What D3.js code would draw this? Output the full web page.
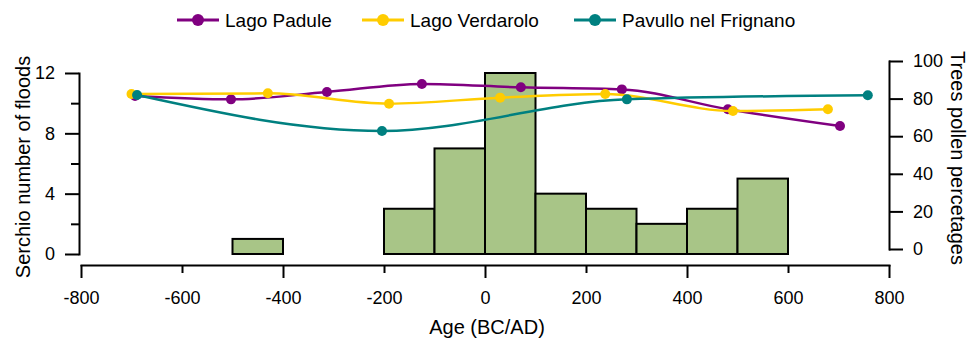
<!DOCTYPE html>
<html>
<head>
<meta charset="utf-8">
<script src="https://cdn.jsdelivr.net/npm/d3@7"></script>
<style>
  body { margin: 0; background: #fff; }
  svg text { font-family: "Liberation Sans", Arial, sans-serif; fill: #000; }
  .axis path, .axis line { stroke: #000; stroke-width: 2; }
</style>
</head>
<body>
<div id="chart"></div>
<script>
// Histogram of Serchio floods (100-year bins)
const binStarts = [-500, -200, -100, 0, 100, 200, 300, 400, 500];
const floods = [1, 3, 7, 12, 4, 3, 2, 3, 5];

// Trees pollen percentages
const paduleAge = [-693, -503, -313, -125, 71, 271, 481, 703];
const paduleVal = [81.4, 79.6, 83.5, 87.8, 86.0, 84.9, 74.3, 65.4];
const verdaroloAge = [-700, -430, -190, 30, 238, 491, 679];
const verdaroloVal = [82.4, 82.8, 77.3, 80.5, 82.4, 73.4, 74.3];
const pavulloAge = [-689, -204, 281, 758];
const pavulloVal = [81.9, 62.8, 79.6, 81.8];

const series = [
    { name: "Lago Padule", color: "#800080", ages: paduleAge, vals: paduleVal },
    { name: "Lago Verdarolo", color: "#ffcc00", ages: verdaroloAge, vals: verdaroloVal },
    { name: "Pavullo nel Frignano", color: "#008080", ages: pavulloAge, vals: pavulloVal }
];

const width = 971, height = 343;
const fmt = d => String(d); // plain hyphen for negatives

const svg = d3.select("#chart").append("svg")
    .attr("width", width)
    .attr("height", height);

// Scales
const x = d3.scaleLinear().domain([-800, 800]).range([81, 889]);
const yL = d3.scaleLinear().domain([0, 12]).range([254, 73]);
const yR = d3.scaleLinear().domain([0, 100]).range([249, 61]);

// Bars
svg.append("g")
    .selectAll("rect")
    .data(binStarts)
    .enter()
    .append("rect")
    .attr("x", d => x(d))
    .attr("width", d => x(d + 100) - x(d))
    .attr("y", (d, i) => yL(floods[i]))
    .attr("height", (d, i) => yL(0) - yL(floods[i]))
    .attr("fill", "#a8c587")
    .attr("stroke", "#000")
    .attr("stroke-width", 2);

// Left axis
svg.append("g").attr("class", "axis")
    .attr("transform", "translate(79,0)")
    .call(d3.axisLeft(yL).tickValues([0, 4, 8, 12]).tickFormat(fmt).tickSize(14).tickSizeOuter(0).tickPadding(10));
svg.append("g").attr("class", "axis")
    .attr("transform", "translate(79,0)")
    .call(d3.axisLeft(yL).tickValues([2, 6, 10]).tickSize(8).tickFormat(""))
    .select(".domain").remove();

// Right axis
svg.append("g").attr("class", "axis")
    .attr("transform", "translate(889,0)")
    .call(d3.axisRight(yR).tickValues([0, 20, 40, 60, 80, 100]).tickFormat(fmt).tickSize(14).tickSizeOuter(0).tickPadding(10));

// Bottom axis
svg.append("g").attr("class", "axis")
    .attr("transform", "translate(0,265)")
    .call(d3.axisBottom(x).tickValues([-800, -400, 0, 400, 800]).tickFormat(fmt).tickSize(13).tickSizeOuter(0).tickPadding(13));
svg.append("g").attr("class", "axis")
    .attr("transform", "translate(0,265)")
    .call(d3.axisBottom(x).tickValues([-600, -200, 200, 600]).tickFormat(fmt).tickSize(8).tickPadding(18))
    .select(".domain").remove();

svg.selectAll(".axis text").style("font-size", "18px");
svg.selectAll(".axis .domain").attr("stroke-linecap", "square");

// Axis titles
svg.append("text")
    .attr("transform", "translate(30,167) rotate(-90)")
    .attr("text-anchor", "middle")
    .style("font-size", "20px")
    .text("Serchio number of floods");

svg.append("text")
    .attr("transform", "translate(951,158) rotate(90)")
    .attr("text-anchor", "middle")
    .style("font-size", "20px")
    .text("Trees pollen percetages");

svg.append("text")
    .attr("x", 487)
    .attr("y", 334)
    .attr("text-anchor", "middle")
    .style("font-size", "20px")
    .text("Age (BC/AD)");

// Pollen lines
const line = d3.line()
    .x(d => x(d[0]))
    .y(d => yR(d[1]))
    .curve(d3.curveMonotoneX);

series.forEach(s => {
    const pts = s.ages.map((a, i) => [a, s.vals[i]]);
    const g = svg.append("g");
    g.append("path")
        .datum(pts)
        .attr("d", line)
        .attr("fill", "none")
        .attr("stroke", s.color)
        .attr("stroke-width", 2.5);
    g.selectAll("circle")
        .data(pts)
        .enter()
        .append("circle")
        .attr("cx", d => x(d[0]))
        .attr("cy", d => yR(d[1]))
        .attr("r", 5)
        .attr("fill", s.color);
});

// Legend
const legendX = [177, 362, 574];
const legend = svg.append("g");
series.forEach((s, i) => {
    const g = legend.append("g").attr("transform", `translate(${legendX[i]},20)`);
    g.append("line")
        .attr("x1", 0).attr("x2", 42)
        .attr("stroke", s.color).attr("stroke-width", 3);
    g.append("circle")
        .attr("cx", 21).attr("r", 6)
        .attr("fill", s.color);
    g.append("text")
        .attr("x", 48).attr("dy", "0.35em")
        .style("font-size", "19px")
        .text(s.name);
});
</script>
</body>
</html>
